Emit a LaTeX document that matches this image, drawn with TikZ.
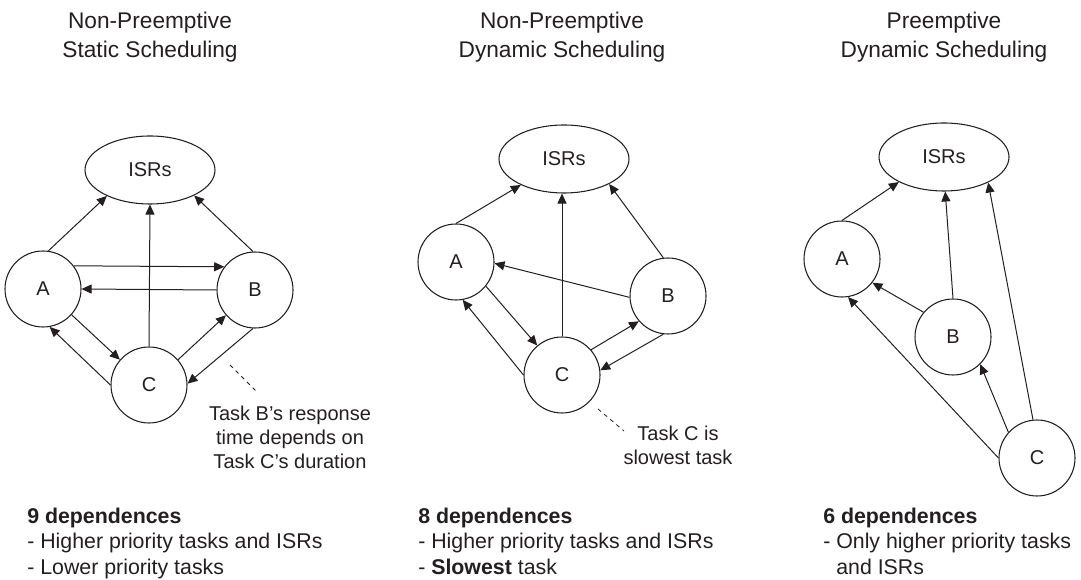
\documentclass[tikz,border=0pt]{standalone}
\usepackage{fontspec}
\setmainfont{Liberation Sans}
\usepackage{xcolor}
\usepackage{tikz}
\usetikzlibrary{shapes.geometric, arrows.meta, positioning, calc}

\definecolor{ink}{HTML}{231F20}

\begin{document}
\begin{tikzpicture}[
    x=0.75pt, y=-0.75pt,
    task/.style={circle, draw=ink, line width=0.8pt, minimum size=57pt, inner sep=0pt, text=ink, font=\fontsize{15}{17}\selectfont},
    isr/.style={ellipse, draw=ink, line width=0.8pt, minimum width=97.5pt, minimum height=51pt, inner sep=0pt, text=ink, font=\fontsize{15}{17}\selectfont},
    dep/.style={-{Triangle[length=7.5pt,width=6.75pt]}, draw=ink, line width=0.75pt},
    hint/.style={ink, dash pattern=on 3pt off 3pt, line width=0.6pt},
    title/.style={align=center, anchor=north, inner sep=0pt, text=ink, font=\fontsize{17}{21.75}\selectfont},
    note/.style={align=center, anchor=north, inner sep=0pt, text=ink, font=\fontsize{15}{18}\selectfont},
    summary/.style={align=left, anchor=north west, inner sep=0pt, text=ink, font=\fontsize{16}{18.9}\selectfont}
]
  \useasboundingbox (0,0) rectangle (1081,580);

  % Titles
  \node[title] (t1) at (150,11.5) {Non-Preemptive\\Static Scheduling};
  \node[title] (t2) at (562,11.5) {Non-Preemptive\\Dynamic Scheduling};
  \node[title] (t3) at (944,11.5) {Preemptive\\Dynamic Scheduling};

  % Static scheduling
  \node[isr] (isr1) at (150,170) {ISRs};
  \node[task] (a1) at (43,289) {A};
  \node[task] (b1) at (255,290) {B};
  \node[task] (c1) at (149,385) {C};

  \draw[dep] (a1.82) -- (isr1.211);
  \draw[dep] (c1.north) -- (isr1.south);
  \draw[dep] (b1.93) -- (isr1.330);
  \draw[dep] (a1.37) -- (b1.143);
  \draw[dep] (b1.west) -- (a1.east);
  \draw[dep] (a1.318) -- (c1.139);
  \draw[dep] (c1.180) -- (a1.280);
  \draw[dep] (c1.41) -- (b1.221);
  \draw[dep] (b1.267) -- (c1.2);

  \coordinate (n1a) at (230,365);
  \coordinate (n1b) at (257,392);
  \draw[hint] (n1a) -- (n1b);
  \node[note] (note1) at (290,406) {Task B's response\\time depends on\\Task C's duration};

  % Non-preemptive dynamic scheduling
  \node[isr] (isr2) at (564,159) {ISRs};
  \node[task] (a2) at (456,262) {A};
  \node[task] (b2) at (668,296) {B};
  \node[task] (c2) at (562,375) {C};

  \draw[dep] (a2.90) -- (isr2.211);
  \draw[dep] (c2.north) -- (isr2.south -| c2.north);
  \draw[dep] (b2.97) -- (isr2.331);
  \draw[dep] (b2.182) -- (a2.358);
  \draw[dep] (a2.321) -- (c2.130);
  \draw[dep] (c2.180) -- (a2.280);
  \draw[dep] (c2.41) -- (b2.221);
  \draw[dep] (b2.263) -- (c2.7);

  \coordinate (n2a) at (598,409);
  \coordinate (n2b) at (624,431);
  \draw[hint] (n2a) -- (n2b);
  \node[note] (note2) at (678,426) {Task C is\\slowest task};

  % Preemptive dynamic scheduling
  \node[isr] (isr3) at (944,157) {ISRs};
  \node[task] (a3) at (842,259) {A};
  \node[task] (b3) at (953,337) {B};
  \node[task] (c3) at (1037,458) {C};

  \draw[dep] (a3.90) -- (isr3.209);
  \draw[dep] (b3.north) -- (isr3.272);
  \draw[dep] (c3.96) -- (isr3.330);
  \draw[dep] (b3.140) -- (a3.322);
  \draw[dep] (c3.180) -- (a3.279);
  \draw[dep] (c3.138) -- (b3.315);

  % Summaries
  \node[summary] (s1) at (27,508) {\textbf{9 dependences}\\- Higher priority tasks and ISRs\\- Lower priority tasks};
  \node[summary] (s2) at (418,508) {\textbf{8 dependences}\\- Higher priority tasks and ISRs\\- \textbf{Slowest} task};
  \node[summary] (s3) at (823,508) {\textbf{6 dependences}\\- Only higher priority tasks\\\phantom{- }and ISRs};
\end{tikzpicture}
\end{document}
